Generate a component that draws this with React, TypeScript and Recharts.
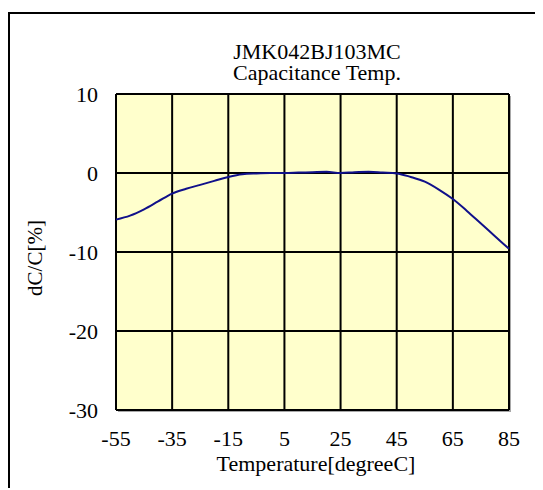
import React from "react";
import { LineChart, Line, XAxis, YAxis, CartesianGrid, Customized } from "recharts";

const temps = [-55, -50, -45, -40, -35, -30, -25, -20, -15, -10, -5, 0, 5, 10, 15, 20, 25, 30, 35, 40, 45, 50, 55, 60, 65, 70, 75, 80, 85];
const dcc = [-5.9, -5.4, -4.6, -3.6, -2.6, -2.0, -1.5, -1.0, -0.5, -0.15, -0.05, 0, 0, 0.05, 0.1, 0.15, 0, 0.1, 0.15, 0.05, -0.05, -0.5, -1.1, -2.1, -3.3, -4.8, -6.4, -8.0, -9.6];
const xTicks = [-55, -35, -15, 5, 25, 45, 65, 85];
const yTicks = [-30, -20, -10, 0, 10];
const titleLines = ["JMK042BJ103MC", "Capacitance Temp."];
const xLabel = "Temperature[degreeC]";
const yLabel = "dC/C[%]";

const data = temps.map((t, i) => ({ t, v: dcc[i] }));
const FONT = "Liberation Serif";
const txt = { fontFamily: FONT, fontSize: 22, fill: "#000" } as const;
const ytxt = { fontFamily: FONT, fontSize: 21, fill: "#000" } as const;

export default function App() {
  return (
    <div style={{ paddingTop: 4, fontFamily: FONT }}>
      <div
        style={{
          position: "relative",
          width: 533,
          height: 474,
          borderLeft: "2px solid #000",
          borderTop: "2px solid #000",
          background: "#fff",
        }}
      >
        <div
          style={{
            position: "absolute",
            left: 108,
            top: 82,
            width: 393,
            height: 316,
            background: "#a8a8a8",
          }}
        />
        <div style={{ position: "absolute", left: 0, top: 0 }}>
          <LineChart
            width={533}
            height={474}
            data={data}
            margin={{ top: 80, right: 34, left: 56, bottom: 38 }}
            style={{ fontFamily: FONT }}
          >
            <CartesianGrid stroke="#000" strokeWidth={2} fill="#FFFFCC" fillOpacity={1} />
            <XAxis
              dataKey="t"
              type="number"
              domain={[-55, 85]}
              ticks={xTicks}
              axisLine={false}
              tickLine={false}
              tickSize={0}
              tickMargin={20}
              height={40}
              tick={{ fill: "#000", fontSize: 22, fontFamily: FONT }}
              interval={0}
            />
            <YAxis
              type="number"
              domain={[-30, 10]}
              ticks={yTicks}
              axisLine={false}
              tickLine={false}
              tickSize={0}
              tickMargin={18}
              width={50}
              tick={{ fill: "#000", fontSize: 22, fontFamily: FONT }}
              interval={0}
            />
            <Line
              type="monotone"
              dataKey="v"
              stroke="#10108a"
              strokeWidth={2}
              dot={false}
              isAnimationActive={false}
            />
            <Customized
              component={() => (
                <g>
                  <text x={307} y={45} style={txt} textAnchor="middle">{titleLines[0]}</text>
                  <text x={307} y={66} style={txt} textAnchor="middle">{titleLines[1]}</text>
                  <text x={306} y={457} style={txt} textAnchor="middle">{xLabel}</text>
                  <text
                    x={25}
                    y={244}
                    style={ytxt}
                    textAnchor="middle"
                    dominantBaseline="central"
                    transform="rotate(-90 25 244)"
                  >
                    {yLabel}
                  </text>
                </g>
              )}
            />
          </LineChart>
        </div>
      </div>
    </div>
  );
}
